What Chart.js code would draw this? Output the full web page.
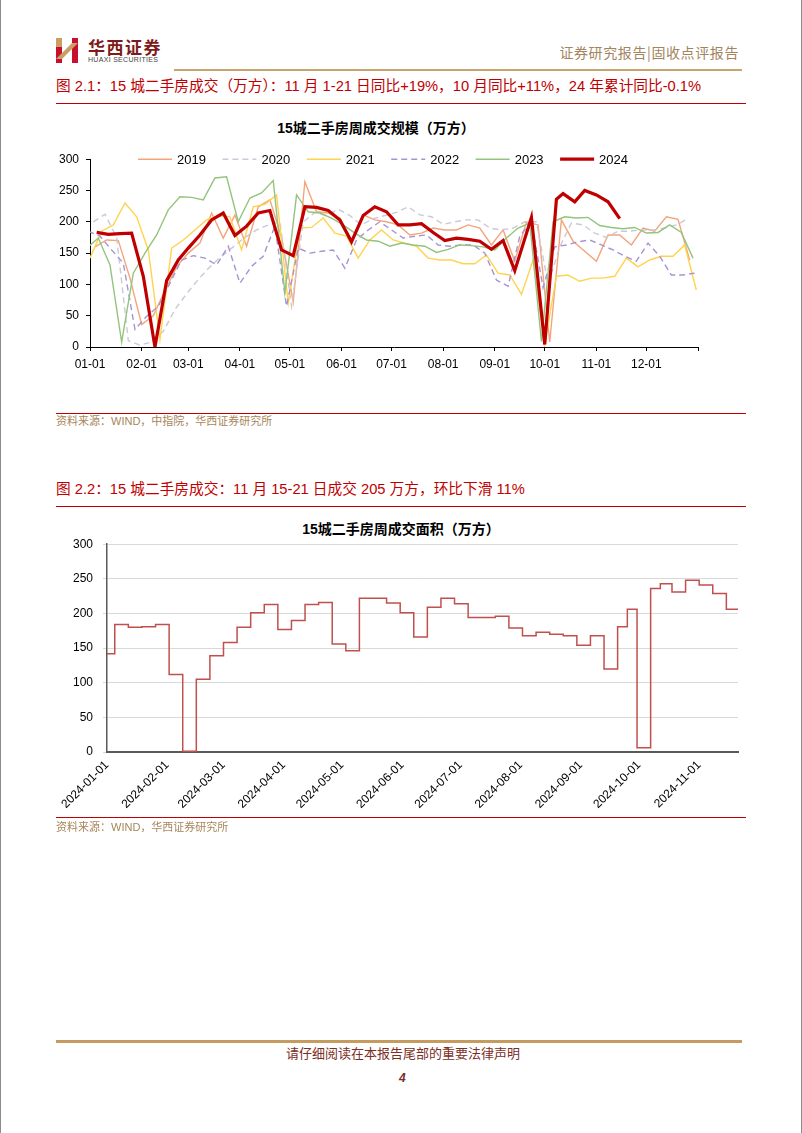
<!DOCTYPE html>
<html>
<head>
<meta charset="utf-8">
<script src="https://cdn.jsdelivr.net/npm/chart.js@4.4.1/dist/chart.umd.min.js"></script>
<style>
html, body { margin: 0; padding: 0; background: #fff; }
#page { position: relative; width: 802px; height: 1133px; box-sizing: border-box; border-left: 1px solid #8c8c8c; border-right: 1px solid #8c8c8c; overflow: hidden; font-family: "Liberation Sans", "Noto Sans CJK SC", sans-serif; }
.abs { position: absolute; white-space: nowrap; line-height: 1; }
.rule { position: absolute; left: 55px; width: 690px; height: 1px; background: #c00000; }
.cap { position: absolute; left: 55px; color: #c00000; font-size: 14.7px; white-space: nowrap; line-height: 1; }
.ttl { position: absolute; font-weight: bold; font-size: 14px; white-space: nowrap; color: #000; transform: translateX(-50%); line-height: 1; }
.src { position: absolute; left: 55px; color: #a8865a; font-size: 11px; white-space: nowrap; line-height: 1; }
canvas { position: absolute; }
</style>
</head>
<body>
<div id="page">
  <svg class="abs" style="left:55px;top:38px" width="24" height="25" viewBox="0 0 24 25">
    <rect x="0" y="0" width="6" height="25" fill="#c8102e"/>
    <rect x="0" y="0" width="6" height="9" fill="#c9a063"/>
    <rect x="16" y="0" width="6" height="25" fill="#c8102e"/>
    <polygon points="0,21 6,21 22,5 16,5" fill="#c9a063"/>
  </svg>
  <div class="abs" style="left:87px;top:38px;font-size:17px;font-weight:bold;color:#7e1a1a;letter-spacing:1.5px;font-family:'Noto Sans CJK SC',sans-serif">华西证券</div>
  <div class="abs" style="left:87px;top:56px;font-size:7px;color:#444;letter-spacing:0.3px">HUAXI SECURITIES</div>
  <div class="abs" style="right:62px;top:45px;font-size:14px;color:#a3845e;letter-spacing:0.6px;font-family:'Noto Sans CJK SC',sans-serif">证券研究报告|固收点评报告</div>
  <div class="abs" style="left:173px;top:69px;width:568px;height:2px;background:#c8a46e"></div>

  <div class="cap" style="top:79px">图 2.1：15 城二手房成交（万方）：11 月 1-21 日同比+19%，10 月同比+11%，24 年累计同比-0.1%</div>
  <div class="rule" style="top:103px"></div>
  <div class="ttl" style="left:375px;top:121px">15城二手房周成交规模（万方）</div>
  <canvas id="c1" width="700" height="230" style="left:30px;top:145px"></canvas>
  <div class="rule" style="top:413px"></div>
  <div class="src" style="top:416px">资料来源：WIND，中指院，华西证券研究所</div>

  <div class="cap" style="top:482px">图 2.2：15 城二手房成交：11 月 15-21 日成交 205 万方，环比下滑 11%</div>
  <div class="rule" style="top:506px"></div>
  <div class="ttl" style="left:400px;top:522px">15城二手房周成交面积（万方）</div>
  <canvas id="c2" width="720" height="295" style="left:40px;top:527px"></canvas>
  <div class="rule" style="top:817px"></div>
  <div class="src" style="top:822px">资料来源：WIND，华西证券研究所</div>

  <div class="abs" style="left:55px;top:1040px;width:686px;height:3px;background:#c59b5f"></div>
  <div class="abs" style="left:402px;top:1046px;transform:translateX(-50%);font-size:13px;color:#7b2d26;font-family:'Noto Sans CJK SC',sans-serif">请仔细阅读在本报告尾部的重要法律声明</div>
  <div class="abs" style="left:398px;top:1072px;font-size:12px;font-weight:bold;font-style:italic;color:#7b2d26">4</div>
</div>

<script>
// 图2.1 周度数据（万方）
const years = ['2019', '2020', '2021', '2022', '2023', '2024'];
const monthTicks1 = ['01-01', '02-01', '03-01', '04-01', '05-01', '06-01', '07-01', '08-01', '09-01', '10-01', '11-01', '12-01'];
const firstWeekOffset = [3, 2, 0, -1, -2];   // 各年第一周相对01-01的天数

const v2019 = [160,171,170,110,36,50,90,128,150,166,214,174,211,161,224,235,175,72,264,216,214,206,171,211,203,200,195,179,182,190,187,187,195,190,163,187,137,200,195,8,203,169,153,137,179,179,163,190,185,208,204,139];
const v2020 = [200,212,175,10,3,8,25,60,85,108,128,145,160,175,187,195,200,65,200,215,210,220,210,195,205,210,215,224,211,208,196,200,203,203,190,187,190,200,200,100,160,198,195,182,175,185,185,187,187,190,195,205];
const v2021 = [142,185,195,230,208,155,12,158,171,187,203,210,208,155,224,228,243,70,190,191,206,182,177,142,171,187,171,166,161,142,139,139,133,133,147,118,115,84,139,4,113,115,105,110,110,113,142,128,139,145,145,163,91];
const v2022 = [185,177,155,134,28,49,65,102,139,146,142,131,161,102,129,145,193,65,158,150,153,155,126,171,187,200,187,174,177,179,163,161,163,163,150,107,97,177,200,95,160,163,168,171,163,155,145,137,166,145,115,115,118];
const v2023 = [158,174,131,8,118,150,179,219,240,239,235,270,272,200,238,246,266,86,243,216,214,206,195,182,171,169,161,166,163,161,151,156,163,162,160,155,174,190,198,9,200,208,206,207,194,191,189,191,182,183,195,183,142];

const dates2024 = ['01-05','01-12','01-19','01-26','02-02','02-09','02-16','02-23','03-01','03-08','03-15','03-22','03-29','04-05','04-12','04-19','04-26','05-03','05-10','05-17','05-24','05-31','06-07','06-14','06-21','06-28','07-05','07-12','07-19','07-26','08-02','08-09','08-16','08-23','08-30','09-06','09-13','09-23','10-01','10-08','10-12','10-19','10-25','11-01','11-08','11-15'];
const v2024 = [183,180,181,182,113,0,106,139,158,179,203,214,178,193,214,218,155,146,224,223,218,203,168,210,224,216,195,195,197,183,170,174,172,169,156,170,122,207,4,236,245,232,250,243,232,205];

// 图2.2 2024年周成交面积（万方）
const areaDates = ['2024-01-01','2024-01-05','2024-01-12','2024-01-19','2024-01-26','2024-02-02','2024-02-09','2024-02-16','2024-02-23','2024-03-01','2024-03-08','2024-03-15','2024-03-22','2024-03-29','2024-04-05','2024-04-12','2024-04-19','2024-04-26','2024-05-03','2024-05-10','2024-05-17','2024-05-24','2024-05-31','2024-06-07','2024-06-14','2024-06-21','2024-06-28','2024-07-05','2024-07-12','2024-07-19','2024-07-26','2024-08-02','2024-08-09','2024-08-16','2024-08-23','2024-08-30','2024-09-06','2024-09-13','2024-09-20','2024-09-25','2024-09-30','2024-10-07','2024-10-12','2024-10-18','2024-10-25','2024-11-01','2024-11-08','2024-11-15'];
const areaValues = [142,184,180,181,184,112,1,105,139,158,180,201,213,177,190,213,216,156,146,222,222,215,201,166,209,222,214,194,194,196,179,168,173,170,168,154,168,120,181,206,6,236,243,231,248,241,229,206];
const areaEnd = '2024-11-21';
const monthTicks2 = ['2024-01-01','2024-02-01','2024-03-01','2024-04-01','2024-05-01','2024-06-01','2024-07-01','2024-08-01','2024-09-01','2024-10-01','2024-11-01'];

Chart.defaults.font.family = '"Liberation Sans", Arial, sans-serif';
Chart.defaults.font.size = 12;
Chart.defaults.color = '#000';

const dayOfYear = function(mmdd, year) {
  const [m, d] = mmdd.split('-').map(Number);
  return (Date.UTC(year, m - 1, d) - Date.UTC(year, 0, 1)) / 864e5;
};

// chart 1
const styles1 = [
  { color: '#f4a47c', dash: [], width: 1.4 },
  { color: '#c9c9d8', dash: [6, 4], width: 1.4 },
  { color: '#ffd34e', dash: [], width: 1.4 },
  { color: '#a793d2', dash: [6, 4], width: 1.4 },
  { color: '#93c47d', dash: [], width: 1.4 },
  { color: '#c00000', dash: [], width: 3.2 }
];
const oldYears = [v2019, v2020, v2021, v2022, v2023];
const datasets1 = oldYears.map(function(vals, i) {
  return {
    label: years[i],
    data: vals.map((v, k) => ({ x: firstWeekOffset[i] + 7 * k, y: v })),
    borderColor: styles1[i].color,
    borderWidth: styles1[i].width,
    borderDash: styles1[i].dash,
    order: 5 - i
  };
});
datasets1.push({
  label: years[5],
  data: v2024.map((v, k) => ({ x: dayOfYear(dates2024[k], 2023), y: v })),
  borderColor: styles1[5].color,
  borderWidth: styles1[5].width,
  borderDash: [],
  order: 0
});

const tickDays1 = monthTicks1.map(t => dayOfYear(t, 2023)).concat([365]);

const lineLegend = {
  id: 'lineLegend',
  afterDraw(chart) {
    const { ctx, chartArea } = chart;
    const items = chart.data.datasets.slice().sort((a, b) => a.label.localeCompare(b.label));
    ctx.save();
    ctx.font = '13px "Liberation Sans", Arial, sans-serif';
    const sample = 34, gap = 5, space = 16.5;
    const widths = items.map(d => sample + gap + ctx.measureText(d.label).width);
    const total = widths.reduce((a, b) => a + b, 0) + space * (items.length - 1);
    let x = (chartArea.left + chartArea.right) / 2 - 11 - total / 2;
    const y = chartArea.top;
    items.forEach(function(d, i) {
      ctx.beginPath();
      ctx.strokeStyle = d.borderColor;
      ctx.lineWidth = d.borderWidth;
      ctx.setLineDash(d.borderDash || []);
      ctx.moveTo(x, y);
      ctx.lineTo(x + sample, y);
      ctx.stroke();
      ctx.setLineDash([]);
      ctx.fillStyle = '#000';
      ctx.textBaseline = 'middle';
      ctx.fillText(d.label, x + sample + gap, y + 1);
      x += widths[i] + space;
    });
    ctx.restore();
  }
};

new Chart(document.getElementById('c1'), {
  type: 'line',
  data: { datasets: datasets1 },
  options: {
    responsive: false,
    animation: false,
    layout: { padding: { left: 0, right: 33, top: 9, bottom: 0 } },
    plugins: { legend: { display: false }, tooltip: { enabled: false } },
    elements: { point: { radius: 0 }, line: { tension: 0 } },
    scales: {
      x: {
        type: 'linear', min: 0, max: 365,
        afterBuildTicks: s => { s.ticks = tickDays1.map(v => ({ value: v })); },
        afterFit: s => { s.height = 28; },
        ticks: { autoSkip: false, maxRotation: 0, padding: 6,
          callback: (v, i) => (i < monthTicks1.length ? monthTicks1[i] : '') },
        grid: { drawOnChartArea: false, drawTicks: true, tickLength: 4, color: '#000' },
        border: { color: '#000', width: 1 }
      },
      y: {
        min: 0, max: 300,
        afterFit: s => { s.width = 59; },
        ticks: { stepSize: 50, padding: 7 },
        grid: { drawOnChartArea: false, tickLength: 4, color: '#000' },
        border: { color: '#000', width: 1 }
      }
    }
  },
  plugins: [lineLegend]
});

// chart 2
const areaPoints = areaDates.map((d, k) => ({ x: dayOfYear(d.slice(5), 2024), y: areaValues[k] }));
areaPoints.push({ x: dayOfYear(areaEnd.slice(5), 2024), y: areaValues[areaValues.length - 1] });
const tickDays2 = monthTicks2.map(t => dayOfYear(t.slice(5), 2024));

new Chart(document.getElementById('c2'), {
  type: 'line',
  data: {
    datasets: [{
      label: '15城二手房周成交面积',
      data: areaPoints,
      borderColor: '#c0504d',
      borderWidth: 1.5,
      stepped: 'before',
      pointRadius: 0
    }]
  },
  options: {
    responsive: false,
    animation: false,
    layout: { padding: { left: 0, right: 23, top: 9, bottom: 0 } },
    plugins: { legend: { display: false }, tooltip: { enabled: false } },
    scales: {
      x: {
        type: 'linear', min: 0, max: dayOfYear(areaEnd.slice(5), 2024),
        afterBuildTicks: s => { s.ticks = tickDays2.map(v => ({ value: v })); },
        afterFit: s => { s.height = 70; },
        ticks: { autoSkip: false, minRotation: 45, maxRotation: 45, padding: 2,
          callback: (v, i) => monthTicks2[i] },
        grid: { drawOnChartArea: false, drawTicks: true, tickLength: 4, color: '#fff' },
        border: { color: '#595959', width: 2 }
      },
      y: {
        min: 0, max: 300,
        afterFit: s => { s.width = 66; },
        ticks: { stepSize: 50, padding: 10 },
        grid: { color: '#d9d9d9', tickLength: 4 },
        border: { color: '#595959', width: 1.5 }
      }
    }
  }
});
</script>
</body>
</html>
